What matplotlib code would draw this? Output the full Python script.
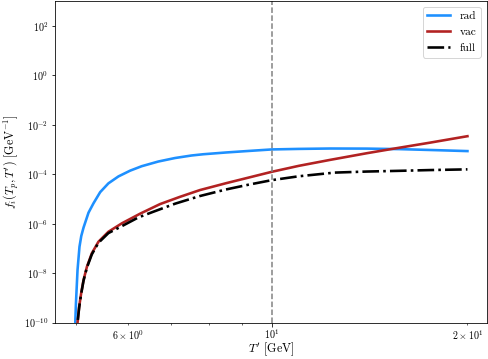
import numpy as np
import matplotlib
matplotlib.use('Agg')
import matplotlib.pyplot as plt

plt.rcParams['font.family'] = 'serif'
plt.rcParams['font.serif'] = ['cmr10', 'DejaVu Serif']
plt.rcParams['mathtext.fontset'] = 'cm'
plt.rcParams['axes.formatter.use_mathtext'] = True
plt.rcParams['axes.unicode_minus'] = False
plt.rcParams['font.size'] = 10

# Values
x_rad = [4.975, 4.983, 4.995, 5.023, 5.058, 5.09, 5.131, 5.222, 5.315, 5.443, 5.604, 5.807,
         6.052, 6.306, 6.688, 7.096, 7.525, 7.843, 8.5, 9.2, 10.0, 11.0, 12.3, 14.0, 15.7, 18.0, 20.0]
y_rad = [1e-11, 1e-10, 6.1e-10, 1.35e-8, 1.18e-7, 3.2e-7, 7.0e-7, 2.8e-6, 6.7e-6, 1.9e-5, 4.3e-5, 8.2e-5,
         1.4e-4, 2.12e-4, 3.28e-4, 4.54e-4, 5.75e-4, 6.45e-4, 7.6e-4, 8.75e-4, 1.01e-3, 1.06e-3, 1.1e-3,
         1.09e-3, 1.04e-3, 9.4e-4, 8.65e-4]

x_vac = [5.015, 5.023, 5.052, 5.088, 5.131, 5.193, 5.284, 5.409, 5.604, 5.877, 6.269, 6.73,
         7.224, 7.75, 8.5, 9.2, 10.0, 11.0, 12.28, 14.0, 15.35, 17.5, 20.0]
y_vac = [1e-11, 1e-10, 4.4e-10, 1.54e-9, 5.3e-9, 1.83e-8, 6.4e-8, 1.87e-7, 4.75e-7, 1.04e-6, 2.55e-6, 6.25e-6,
         1.23e-5, 2.3e-5, 4.35e-5, 7.3e-5, 1.26e-4, 2.19e-4, 3.8e-4, 7.1e-4, 1.07e-3, 1.89e-3, 3.46e-3]

x_full = [5.015, 5.023, 5.052, 5.088, 5.131, 5.193, 5.284, 5.409, 5.604, 5.877, 6.231, 6.571,
          7.1, 7.75, 8.5, 9.2, 10.0, 11.0, 12.5, 14.0, 15.73, 17.5, 20.0]
y_full = [1e-11, 1e-10, 4.1e-10, 1.45e-9, 5.0e-9, 1.7e-8, 5.8e-8, 1.7e-7, 4.2e-7, 8.0e-7, 1.8e-6, 3.06e-6,
          6.5e-6, 1.32e-5, 2.43e-5, 3.78e-5, 5.8e-5, 8.3e-5, 1.17e-4, 1.29e-4, 1.38e-4, 1.48e-4, 1.58e-4]

T_cut = 10.0

dpi = 72
fig = plt.figure(figsize=(488 / dpi, 359 / dpi), dpi=dpi)
ax = fig.add_subplot(111)
ax.plot(x_rad, y_rad, color='dodgerblue', lw=2.6, label='rad')
ax.plot(x_vac, y_vac, color='firebrick', lw=2.6, label='vac')
ax.plot(x_full, y_full, color='black', lw=2.6, ls='-.', label='full')
ax.axvline(T_cut, color='gray', ls='--', lw=1.5)
ax.set_xscale('log')
ax.set_yscale('log')
ax.set_xlim(4.64, 21.4)
ax.set_ylim(1e-10, 1e3)
ax.tick_params(axis='x', pad=1.5)
ax.set_xlabel(r"$T'$ [GeV]", fontsize=12)
ax.xaxis.set_label_coords(0.5, -0.053)
ax.set_ylabel(r"$f_i(T_p, T')$ [GeV$^{-1}$]", fontsize=12, labelpad=3)
ax.legend(loc='upper right', fontsize=11.5)
fig.subplots_adjust(left=0.113, right=0.997, bottom=0.101, top=0.997)
fig.savefig('out.png', dpi=dpi)
